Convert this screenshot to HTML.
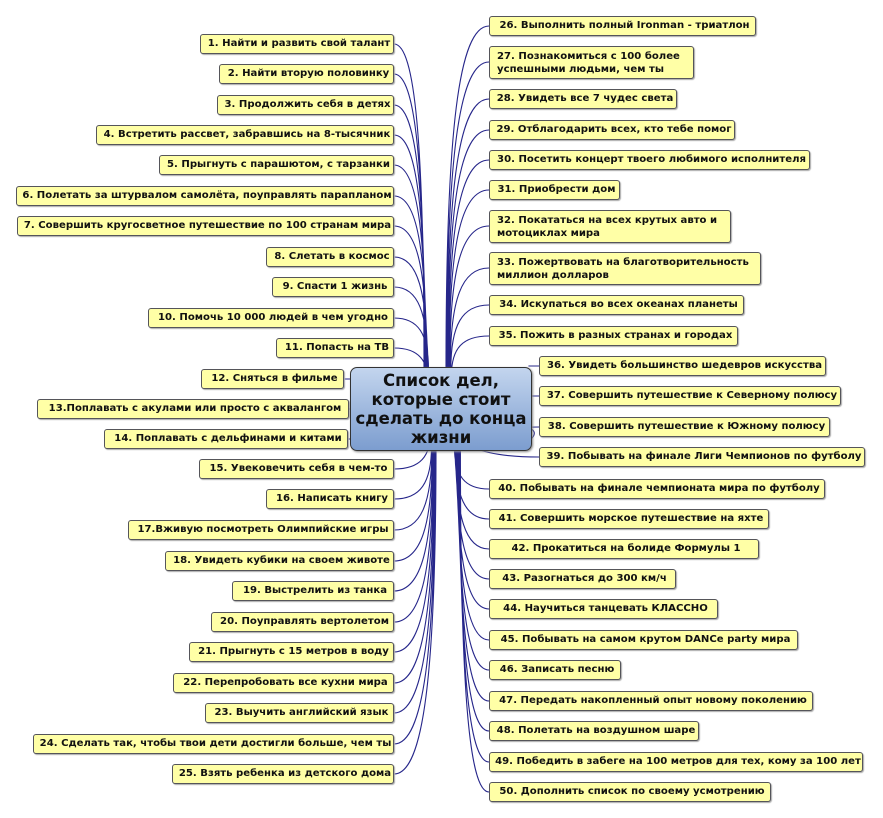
<!DOCTYPE html>
<html><head><meta charset="utf-8">
<style>
body{margin:0;width:883px;height:818px;background:#fff;position:relative;overflow:hidden;font-family:"DejaVu Sans","Liberation Sans",sans-serif}
.b{position:absolute;background:#ffffa6;border:1px solid #55555a;border-radius:3px;box-sizing:border-box;height:20px;font-weight:bold;font-size:10.1px;line-height:18px;white-space:nowrap;padding-left:4px;text-align:center;color:#111;box-shadow:1px 1px 1px #aaa}
.t{height:33px;line-height:13px;padding-top:3px;text-align:left;padding-left:7px}
.c{position:absolute;left:350px;top:367px;width:182px;height:84px;box-sizing:border-box;border:1px solid #333;border-radius:7px;background:linear-gradient(#c3d5ee,#7c9dcf);font-weight:bold;font-size:16.5px;line-height:19px;text-align:center;padding-top:3px;color:#111;box-shadow:1px 1px 2px #888}
svg{position:absolute;left:0;top:0}
</style></head><body>
<svg id="s" width="883" height="818"></svg>
<div class="b" style="left:200px;top:34px;width:194px">1. Найти и развить свой талант</div>
<div class="b" style="left:219px;top:64px;width:175px">2. Найти вторую половинку</div>
<div class="b" style="left:217px;top:95px;width:177px">3. Продолжить себя в детях</div>
<div class="b" style="left:96px;top:125px;width:298px">4. Встретить рассвет, забравшись на 8-тысячник</div>
<div class="b" style="left:159px;top:155px;width:235px">5. Прыгнуть с парашютом, с тарзанки</div>
<div class="b" style="left:16px;top:186px;width:378px">6. Полетать за штурвалом самолёта, поуправлять парапланом</div>
<div class="b" style="left:17px;top:216px;width:377px">7. Совершить кругосветное путешествие по 100 странам мира</div>
<div class="b" style="left:266px;top:247px;width:128px">8. Слетать в космос</div>
<div class="b" style="left:272px;top:277px;width:122px">9. Спасти 1 жизнь</div>
<div class="b" style="left:148px;top:308px;width:246px">10. Помочь 10 000 людей в чем угодно</div>
<div class="b" style="left:276px;top:338px;width:118px">11. Попасть на ТВ</div>
<div class="b" style="left:201px;top:369px;width:143px">12. Сняться в фильме</div>
<div class="b" style="left:37px;top:399px;width:312px">13.Поплавать с акулами или просто с аквалангом</div>
<div class="b" style="left:104px;top:429px;width:244px">14. Поплавать с дельфинами и китами</div>
<div class="b" style="left:199px;top:459px;width:195px">15. Увековечить себя в чем-то</div>
<div class="b" style="left:266px;top:489px;width:128px">16. Написать книгу</div>
<div class="b" style="left:128px;top:520px;width:266px">17.Вживую посмотреть Олимпийские игры</div>
<div class="b" style="left:165px;top:551px;width:229px">18. Увидеть кубики на своем животе</div>
<div class="b" style="left:232px;top:581px;width:162px">19. Выстрелить из танка</div>
<div class="b" style="left:211px;top:612px;width:183px">20. Поуправлять вертолетом</div>
<div class="b" style="left:189px;top:642px;width:205px">21. Прыгнуть с 15 метров в воду</div>
<div class="b" style="left:173px;top:673px;width:221px">22. Перепробовать все кухни мира</div>
<div class="b" style="left:205px;top:703px;width:189px">23. Выучить английский язык</div>
<div class="b" style="left:33px;top:734px;width:361px">24. Сделать так, чтобы твои дети достигли больше, чем ты</div>
<div class="b" style="left:172px;top:764px;width:222px">25. Взять ребенка из детского дома</div>

<div class="b" style="left:489px;top:16px;width:267px">26. Выполнить полный Ironman - триатлон</div>
<div class="b t" style="left:489px;top:46px;width:205px">27. Познакомиться с 100 более<br>успешными людьми, чем ты</div>
<div class="b" style="left:489px;top:89px;width:188px">28. Увидеть все 7 чудес света</div>
<div class="b" style="left:489px;top:120px;width:246px">29. Отблагодарить всех, кто тебе помог</div>
<div class="b" style="left:489px;top:150px;width:321px">30. Посетить концерт твоего любимого исполнителя</div>
<div class="b" style="left:489px;top:180px;width:131px">31. Приобрести дом</div>
<div class="b t" style="left:489px;top:210px;width:242px">32. Покататься на всех крутых авто и<br>мотоциклах мира</div>
<div class="b t" style="left:489px;top:252px;width:272px">33. Пожертвовать на благотворительность<br>миллион долларов</div>
<div class="b" style="left:489px;top:295px;width:255px">34. Искупаться во всех океанах планеты</div>
<div class="b" style="left:489px;top:326px;width:249px">35. Пожить в разных странах и городах</div>
<div class="b" style="left:539px;top:356px;width:287px">36. Увидеть большинство шедевров искусства</div>
<div class="b" style="left:539px;top:386px;width:302px">37. Совершить путешествие к Северному полюсу</div>
<div class="b" style="left:539px;top:417px;width:291px">38. Совершить путешествие к Южному полюсу</div>
<div class="b" style="left:539px;top:447px;width:326px">39. Побывать на финале Лиги Чемпионов по футболу</div>
<div class="b" style="left:489px;top:479px;width:336px">40. Побывать на финале чемпионата мира по футболу</div>
<div class="b" style="left:489px;top:509px;width:280px">41. Совершить морское путешествие на яхте</div>
<div class="b" style="left:489px;top:539px;width:270px">42. Прокатиться на болиде Формулы 1</div>
<div class="b" style="left:489px;top:569px;width:187px">43. Разогнаться до 300 км/ч</div>
<div class="b" style="left:489px;top:599px;width:229px">44. Научиться танцевать КЛАССНО</div>
<div class="b" style="left:489px;top:630px;width:309px">45. Побывать на самом крутом DANCe party мира</div>
<div class="b" style="left:489px;top:660px;width:132px">46. Записать песню</div>
<div class="b" style="left:489px;top:691px;width:324px">47. Передать накопленный опыт новому поколению</div>
<div class="b" style="left:489px;top:721px;width:210px">48. Полетать на воздушном шаре</div>
<div class="b" style="left:489px;top:752px;width:374px">49. Победить в забеге на 100 метров для тех, кому за 100 лет</div>
<div class="b" style="left:489px;top:782px;width:282px">50. Дополнить список по своему усмотрению</div>

<div class="c">Список дел,<br>которые стоит<br>сделать до конца<br>жизни</div>
<script>
var L=[[394,44],[394,74],[394,105],[394,135],[394,165],[394,196],[394,226],[394,257],[394,287],[394,318],[394,348],[344,379],[349,409],[348,439],[394,469],[394,499],[394,530],[394,561],[394,591],[394,622],[394,652],[394,683],[394,713],[394,744],[394,774]];
var R=[[489,26],[489,62],[489,99],[489,130],[489,160],[489,190],[489,226],[489,268],[489,305],[489,336],[539,366],[539,396],[539,427],[539,457],[489,489],[489,519],[489,549],[489,579],[489,609],[489,640],[489,670],[489,701],[489,731],[489,762],[489,792]];
var p='';
function cur(x,y,cx){var cy=408;var ey=y<cy?Math.max(y+40,370):Math.min(y-40,446);
if(y>360&&y<456){ey=y;}
return 'M'+x+','+y+' C'+(x+(cx-x)*0.7)+','+y+' '+cx+','+(y+(ey-y)*0.3)+' '+cx+','+ey;}
L.forEach(function(a,i){var cx=424+i*0.5;if(a[1]>360&&a[1]<456){p+='M'+a[0]+','+a[1]+' L352,'+a[1];}else p+=cur(a[0],a[1],cx)+' ';});
R.forEach(function(a,i){var cx=446+i*0.6;if(a[1]>360&&a[1]<456){p+='M'+a[0]+','+a[1]+' C'+(a[0]-25)+','+a[1]+' 545,'+a[1]+' 530,'+(a[1]<420?a[1]:440)+' ';}else p+=cur(a[0],a[1],cx)+' ';});
document.getElementById('s').innerHTML='<path d="'+p+'" fill="none" stroke="#26268a" stroke-width="1.1"/>';
</script>
</body></html>
